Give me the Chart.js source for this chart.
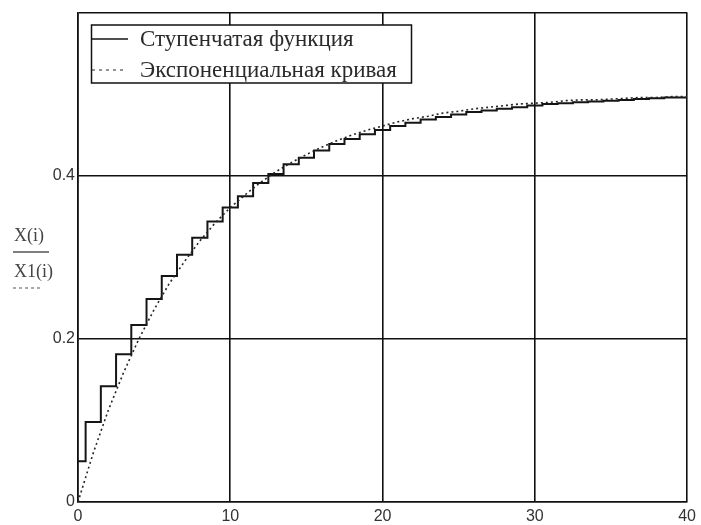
<!DOCTYPE html>
<html>
<head>
<meta charset="utf-8">
<script src="https://cdn.jsdelivr.net/npm/chart.js@4/dist/chart.umd.min.js"></script>
<style>
  html, body { margin: 0; padding: 0; background: #fff; }
</style>
</head>
<body>
<canvas id="chart" width="701" height="525"></canvas>
<script>
// index i, 0..40
const steps = [0, 1, 2, 3, 4, 5, 6, 7, 8, 9, 10, 11, 12, 13, 14, 15, 16, 17, 18, 19, 20,
  21, 22, 23, 24, 25, 26, 27, 28, 29, 30, 31, 32, 33, 34, 35, 36, 37, 38, 39, 40];

// X(i) - step function
const stepValues = [0.050, 0.098, 0.142, 0.181, 0.217, 0.249, 0.277, 0.303, 0.324, 0.344,
  0.361, 0.375, 0.391, 0.402, 0.414, 0.422, 0.431, 0.439, 0.445, 0.451,
  0.456, 0.461, 0.465, 0.469, 0.472, 0.475, 0.478, 0.480, 0.482, 0.484,
  0.486, 0.488, 0.489, 0.490, 0.491, 0.492, 0.493, 0.494, 0.495, 0.496, 0.496];

// X1(i) - exponential curve
const expValues = [0.000, 0.060, 0.113, 0.159, 0.200, 0.236, 0.268, 0.295, 0.320, 0.342,
  0.361, 0.377, 0.392, 0.405, 0.416, 0.426, 0.435, 0.443, 0.450, 0.456,
  0.461, 0.466, 0.470, 0.473, 0.477, 0.479, 0.482, 0.484, 0.486, 0.488,
  0.489, 0.490, 0.492, 0.493, 0.493, 0.494, 0.495, 0.496, 0.496, 0.497, 0.497];

const legendLabels = ["Ступенчатая функция", "Экспоненциальная кривая"];
const axisLabels = ["X(i)", "X1(i)"];

const lineColor = "#151515";
const dotColor = "#262626";

// legend box in the upper left corner + stacked y-axis label
const overlay = {
  id: "overlay",
  afterDraw(chart) {
    const ctx = chart.ctx;
    ctx.save();

    // legend box
    ctx.fillStyle = "#fff";
    ctx.fillRect(91.5, 25, 320, 58);
    ctx.strokeStyle = "#111";
    ctx.lineWidth = 1.5;
    ctx.strokeRect(91.5, 25, 320, 58);

    ctx.strokeStyle = lineColor;
    ctx.lineWidth = 1.5;
    ctx.beginPath();
    ctx.moveTo(92, 39);
    ctx.lineTo(128, 39);
    ctx.stroke();

    ctx.strokeStyle = dotColor;
    ctx.lineWidth = 1;
    ctx.setLineDash([3, 4]);
    ctx.beginPath();
    ctx.moveTo(92, 70);
    ctx.lineTo(124, 70);
    ctx.stroke();
    ctx.setLineDash([]);

    ctx.fillStyle = "#2a2a2a";
    ctx.font = "23px 'Liberation Serif'";
    ctx.textBaseline = "middle";
    ctx.textAlign = "left";
    ctx.fillText(legendLabels[0], 140, 40);
    ctx.fillText(legendLabels[1], 140, 71);

    // y-axis label: X(i) over a solid line, X1(i) over a dashed line
    ctx.fillStyle = "#444";
    ctx.font = "18px 'Liberation Serif'";
    ctx.fillText(axisLabels[0], 14, 236);
    ctx.fillText(axisLabels[1], 14, 272);
    ctx.strokeStyle = "#555";
    ctx.lineWidth = 1.5;
    ctx.beginPath();
    ctx.moveTo(13, 252);
    ctx.lineTo(49, 252);
    ctx.stroke();
    ctx.lineWidth = 1;
    ctx.setLineDash([3, 3]);
    ctx.beginPath();
    ctx.moveTo(13, 288);
    ctx.lineTo(43, 288);
    ctx.stroke();

    ctx.restore();
  }
};

new Chart(document.getElementById("chart").getContext("2d"), {
  type: "line",
  data: {
    datasets: [
      {
        label: "X1(i)",
        data: steps.map((x, i) => ({ x: x, y: expValues[i] })),
        borderColor: dotColor,
        borderWidth: 1.6,
        borderDash: [2, 3],
        pointRadius: 0,
        fill: false,
      },
      {
        label: "X(i)",
        data: steps.map((x, i) => ({ x: x, y: stepValues[i] })),
        borderColor: lineColor,
        borderWidth: 2,
        stepped: "middle",
        pointRadius: 0,
        fill: false,
      },
    ],
  },
  options: {
    responsive: false,
    animation: false,
    layout: { autoPadding: false, padding: { top: 11, right: 9, left: 0, bottom: 0 } },
    plugins: { legend: { display: false }, tooltip: { enabled: false } },
    scales: {
      x: {
        type: "linear",
        min: 0,
        max: 40,
        ticks: {
          stepSize: 10,
          color: "#333",
          padding: 5,
          maxRotation: 0,
          font: { family: "'Liberation Sans'", size: 16 },
        },
        grid: { color: "#111", lineWidth: 1.6, drawTicks: false },
        border: { color: "#111", width: 1.6 },
        afterFit: (scale) => { scale.height = 23; },
      },
      y: {
        min: 0,
        max: 0.6,
        ticks: {
          stepSize: 0.2,
          color: "#333",
          padding: 3,
          font: { family: "'Liberation Sans'", size: 16 },
          callback: (v) => (v > 0.5 ? "" : v === 0 ? "0" : v.toFixed(1)),
        },
        grid: { color: "#111", lineWidth: 1.6, drawTicks: false },
        border: { color: "#111", width: 1.6 },
        afterFit: (scale) => { scale.width = 78; },
      },
    },
  },
  plugins: [overlay],
});
</script>
</body>
</html>
